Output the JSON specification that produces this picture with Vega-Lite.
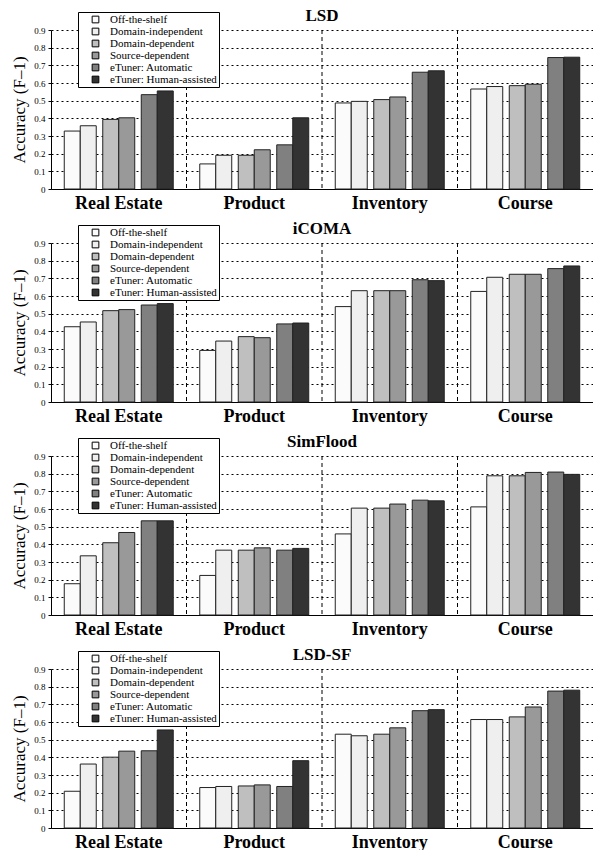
{
  "$schema": "https://vega.github.io/schema/vega-lite/v6.json",
  "padding": {"left": 10, "top": 6, "right": 0, "bottom": 0},
  "spacing": 7,
  "data": {"values": [
    {"matcher":"LSD","category":"Real Estate","method":"Off-the-shelf","accuracy":0.328},
    {"matcher":"LSD","category":"Real Estate","method":"Domain-independent","accuracy":0.358},
    {"matcher":"LSD","category":"Real Estate","method":"Domain-dependent","accuracy":0.394},
    {"matcher":"LSD","category":"Real Estate","method":"Source-dependent","accuracy":0.403},
    {"matcher":"LSD","category":"Real Estate","method":"eTuner: Automatic","accuracy":0.534},
    {"matcher":"LSD","category":"Real Estate","method":"eTuner: Human-assisted","accuracy":0.555},
    {"matcher":"LSD","category":"Product","method":"Off-the-shelf","accuracy":0.142},
    {"matcher":"LSD","category":"Product","method":"Domain-independent","accuracy":0.191},
    {"matcher":"LSD","category":"Product","method":"Domain-dependent","accuracy":0.191},
    {"matcher":"LSD","category":"Product","method":"Source-dependent","accuracy":0.222},
    {"matcher":"LSD","category":"Product","method":"eTuner: Automatic","accuracy":0.25},
    {"matcher":"LSD","category":"Product","method":"eTuner: Human-assisted","accuracy":0.403},
    {"matcher":"LSD","category":"Inventory","method":"Off-the-shelf","accuracy":0.487},
    {"matcher":"LSD","category":"Inventory","method":"Domain-independent","accuracy":0.496},
    {"matcher":"LSD","category":"Inventory","method":"Domain-dependent","accuracy":0.506},
    {"matcher":"LSD","category":"Inventory","method":"Source-dependent","accuracy":0.521},
    {"matcher":"LSD","category":"Inventory","method":"eTuner: Automatic","accuracy":0.661},
    {"matcher":"LSD","category":"Inventory","method":"eTuner: Human-assisted","accuracy":0.669},
    {"matcher":"LSD","category":"Course","method":"Off-the-shelf","accuracy":0.566},
    {"matcher":"LSD","category":"Course","method":"Domain-independent","accuracy":0.58},
    {"matcher":"LSD","category":"Course","method":"Domain-dependent","accuracy":0.585},
    {"matcher":"LSD","category":"Course","method":"Source-dependent","accuracy":0.593},
    {"matcher":"LSD","category":"Course","method":"eTuner: Automatic","accuracy":0.744},
    {"matcher":"LSD","category":"Course","method":"eTuner: Human-assisted","accuracy":0.746},
    {"matcher":"iCOMA","category":"Real Estate","method":"Off-the-shelf","accuracy":0.426},
    {"matcher":"iCOMA","category":"Real Estate","method":"Domain-independent","accuracy":0.453},
    {"matcher":"iCOMA","category":"Real Estate","method":"Domain-dependent","accuracy":0.517},
    {"matcher":"iCOMA","category":"Real Estate","method":"Source-dependent","accuracy":0.523},
    {"matcher":"iCOMA","category":"Real Estate","method":"eTuner: Automatic","accuracy":0.549},
    {"matcher":"iCOMA","category":"Real Estate","method":"eTuner: Human-assisted","accuracy":0.557},
    {"matcher":"iCOMA","category":"Product","method":"Off-the-shelf","accuracy":0.292},
    {"matcher":"iCOMA","category":"Product","method":"Domain-independent","accuracy":0.345},
    {"matcher":"iCOMA","category":"Product","method":"Domain-dependent","accuracy":0.37},
    {"matcher":"iCOMA","category":"Product","method":"Source-dependent","accuracy":0.364},
    {"matcher":"iCOMA","category":"Product","method":"eTuner: Automatic","accuracy":0.442},
    {"matcher":"iCOMA","category":"Product","method":"eTuner: Human-assisted","accuracy":0.447},
    {"matcher":"iCOMA","category":"Inventory","method":"Off-the-shelf","accuracy":0.54},
    {"matcher":"iCOMA","category":"Inventory","method":"Domain-independent","accuracy":0.63},
    {"matcher":"iCOMA","category":"Inventory","method":"Domain-dependent","accuracy":0.63},
    {"matcher":"iCOMA","category":"Inventory","method":"Source-dependent","accuracy":0.63},
    {"matcher":"iCOMA","category":"Inventory","method":"eTuner: Automatic","accuracy":0.692},
    {"matcher":"iCOMA","category":"Inventory","method":"eTuner: Human-assisted","accuracy":0.687},
    {"matcher":"iCOMA","category":"Course","method":"Off-the-shelf","accuracy":0.626},
    {"matcher":"iCOMA","category":"Course","method":"Domain-independent","accuracy":0.706},
    {"matcher":"iCOMA","category":"Course","method":"Domain-dependent","accuracy":0.723},
    {"matcher":"iCOMA","category":"Course","method":"Source-dependent","accuracy":0.723},
    {"matcher":"iCOMA","category":"Course","method":"eTuner: Automatic","accuracy":0.755},
    {"matcher":"iCOMA","category":"Course","method":"eTuner: Human-assisted","accuracy":0.77},
    {"matcher":"SimFlood","category":"Real Estate","method":"Off-the-shelf","accuracy":0.177},
    {"matcher":"SimFlood","category":"Real Estate","method":"Domain-independent","accuracy":0.335},
    {"matcher":"SimFlood","category":"Real Estate","method":"Domain-dependent","accuracy":0.409},
    {"matcher":"SimFlood","category":"Real Estate","method":"Source-dependent","accuracy":0.467},
    {"matcher":"SimFlood","category":"Real Estate","method":"eTuner: Automatic","accuracy":0.533},
    {"matcher":"SimFlood","category":"Real Estate","method":"eTuner: Human-assisted","accuracy":0.533},
    {"matcher":"SimFlood","category":"Product","method":"Off-the-shelf","accuracy":0.224},
    {"matcher":"SimFlood","category":"Product","method":"Domain-independent","accuracy":0.367},
    {"matcher":"SimFlood","category":"Product","method":"Domain-dependent","accuracy":0.367},
    {"matcher":"SimFlood","category":"Product","method":"Source-dependent","accuracy":0.38},
    {"matcher":"SimFlood","category":"Product","method":"eTuner: Automatic","accuracy":0.367},
    {"matcher":"SimFlood","category":"Product","method":"eTuner: Human-assisted","accuracy":0.377},
    {"matcher":"SimFlood","category":"Inventory","method":"Off-the-shelf","accuracy":0.459},
    {"matcher":"SimFlood","category":"Inventory","method":"Domain-independent","accuracy":0.605},
    {"matcher":"SimFlood","category":"Inventory","method":"Domain-dependent","accuracy":0.605},
    {"matcher":"SimFlood","category":"Inventory","method":"Source-dependent","accuracy":0.628},
    {"matcher":"SimFlood","category":"Inventory","method":"eTuner: Automatic","accuracy":0.65},
    {"matcher":"SimFlood","category":"Inventory","method":"eTuner: Human-assisted","accuracy":0.646},
    {"matcher":"SimFlood","category":"Course","method":"Off-the-shelf","accuracy":0.612},
    {"matcher":"SimFlood","category":"Course","method":"Domain-independent","accuracy":0.788},
    {"matcher":"SimFlood","category":"Course","method":"Domain-dependent","accuracy":0.788},
    {"matcher":"SimFlood","category":"Course","method":"Source-dependent","accuracy":0.807},
    {"matcher":"SimFlood","category":"Course","method":"eTuner: Automatic","accuracy":0.809},
    {"matcher":"SimFlood","category":"Course","method":"eTuner: Human-assisted","accuracy":0.796},
    {"matcher":"LSD-SF","category":"Real Estate","method":"Off-the-shelf","accuracy":0.208},
    {"matcher":"LSD-SF","category":"Real Estate","method":"Domain-independent","accuracy":0.362},
    {"matcher":"LSD-SF","category":"Real Estate","method":"Domain-dependent","accuracy":0.401},
    {"matcher":"LSD-SF","category":"Real Estate","method":"Source-dependent","accuracy":0.435},
    {"matcher":"LSD-SF","category":"Real Estate","method":"eTuner: Automatic","accuracy":0.437},
    {"matcher":"LSD-SF","category":"Real Estate","method":"eTuner: Human-assisted","accuracy":0.555},
    {"matcher":"LSD-SF","category":"Product","method":"Off-the-shelf","accuracy":0.229},
    {"matcher":"LSD-SF","category":"Product","method":"Domain-independent","accuracy":0.235},
    {"matcher":"LSD-SF","category":"Product","method":"Domain-dependent","accuracy":0.238},
    {"matcher":"LSD-SF","category":"Product","method":"Source-dependent","accuracy":0.244},
    {"matcher":"LSD-SF","category":"Product","method":"eTuner: Automatic","accuracy":0.235},
    {"matcher":"LSD-SF","category":"Product","method":"eTuner: Human-assisted","accuracy":0.381},
    {"matcher":"LSD-SF","category":"Inventory","method":"Off-the-shelf","accuracy":0.531},
    {"matcher":"LSD-SF","category":"Inventory","method":"Domain-independent","accuracy":0.522},
    {"matcher":"LSD-SF","category":"Inventory","method":"Domain-dependent","accuracy":0.531},
    {"matcher":"LSD-SF","category":"Inventory","method":"Source-dependent","accuracy":0.567},
    {"matcher":"LSD-SF","category":"Inventory","method":"eTuner: Automatic","accuracy":0.664},
    {"matcher":"LSD-SF","category":"Inventory","method":"eTuner: Human-assisted","accuracy":0.67},
    {"matcher":"LSD-SF","category":"Course","method":"Off-the-shelf","accuracy":0.614},
    {"matcher":"LSD-SF","category":"Course","method":"Domain-independent","accuracy":0.614},
    {"matcher":"LSD-SF","category":"Course","method":"Domain-dependent","accuracy":0.629},
    {"matcher":"LSD-SF","category":"Course","method":"Source-dependent","accuracy":0.685},
    {"matcher":"LSD-SF","category":"Course","method":"eTuner: Automatic","accuracy":0.775},
    {"matcher":"LSD-SF","category":"Course","method":"eTuner: Human-assisted","accuracy":0.78}
  ]},
  "datasets": {"sep": [{"category":"Product"},{"category":"Inventory"},{"category":"Course"}]},
  "resolve": {"legend": {"color": "independent"}},
  "vconcat": [
    {"title": "LSD", "width": 542, "height": 159, "resolve": {"scale": {"x": "independent"}, "axis": {"x": "independent"}}, "layer": [
      {"data": {"name": "sep"}, "mark": {"type": "rule", "strokeDash": [4, 3], "color": "#000", "strokeWidth": 1}, "encoding": {"x": {"field": "category", "type": "nominal", "bandPosition": 0, "scale": {"domain": ["Real Estate","Product","Inventory","Course"], "paddingInner": 0, "paddingOuter": 0}, "axis": null}}},
      {"transform": [{"filter": {"and": [{"field": "matcher", "equal": "LSD"}, {"field": "method", "equal": "Off-the-shelf"}]}}], "mark": {"type": "rule", "opacity": 0}, "encoding": {"x": {"field": "category", "type": "nominal", "scale": {"domain": ["Real Estate","Product","Inventory","Course"], "paddingInner": 0, "paddingOuter": 0}, "axis": {"title": null, "labelAngle": 0}}}},
      {"transform": [{"filter": {"and": [{"field": "matcher", "equal": "LSD"}, {"field": "method", "equal": "Off-the-shelf"}]}}], "mark": {"type": "bar", "stroke": "#222", "strokeWidth": 1}, "encoding": {"x": {"field": "category", "type": "nominal", "scale": {"domain": ["Real Estate","Product","Inventory","Course"], "paddingInner": 0.882, "paddingOuter": 0.441, "align": 0.1109}, "axis": null}, "y": {"field": "accuracy", "type": "quantitative", "scale": {"domain": [0, 0.9], "nice": false}, "axis": {"title": "Accuracy (F–1)", "values": [0,0.1,0.2,0.3,0.4,0.5,0.6,0.7,0.8,0.9], "format": "~g"}}, "color": {"field": "method", "type": "nominal", "scale": {"domain": ["Off-the-shelf","Domain-independent","Domain-dependent","Source-dependent","eTuner: Automatic","eTuner: Human-assisted"], "range": ["#fbfbfb","#efefef","#bfbfbf","#999999","#808080","#333333"]}, "legend": {"title": null}}}},
      {"transform": [{"filter": {"and": [{"field": "matcher", "equal": "LSD"}, {"field": "method", "equal": "Domain-independent"}]}}], "mark": {"type": "bar", "stroke": "#222", "strokeWidth": 1}, "encoding": {"x": {"field": "category", "type": "nominal", "scale": {"domain": ["Real Estate","Product","Inventory","Course"], "paddingInner": 0.882, "paddingOuter": 0.441, "align": 0.2448}, "axis": null}, "y": {"field": "accuracy", "type": "quantitative", "scale": {"domain": [0, 0.9], "nice": false}, "axis": {"title": "Accuracy (F–1)", "values": [0,0.1,0.2,0.3,0.4,0.5,0.6,0.7,0.8,0.9], "format": "~g"}}, "color": {"field": "method", "type": "nominal", "scale": {"domain": ["Off-the-shelf","Domain-independent","Domain-dependent","Source-dependent","eTuner: Automatic","eTuner: Human-assisted"], "range": ["#fbfbfb","#efefef","#bfbfbf","#999999","#808080","#333333"]}, "legend": {"title": null}}}},
      {"transform": [{"filter": {"and": [{"field": "matcher", "equal": "LSD"}, {"field": "method", "equal": "Domain-dependent"}]}}], "mark": {"type": "bar", "stroke": "#222", "strokeWidth": 1}, "encoding": {"x": {"field": "category", "type": "nominal", "scale": {"domain": ["Real Estate","Product","Inventory","Course"], "paddingInner": 0.882, "paddingOuter": 0.441, "align": 0.4331}, "axis": null}, "y": {"field": "accuracy", "type": "quantitative", "scale": {"domain": [0, 0.9], "nice": false}, "axis": {"title": "Accuracy (F–1)", "values": [0,0.1,0.2,0.3,0.4,0.5,0.6,0.7,0.8,0.9], "format": "~g"}}, "color": {"field": "method", "type": "nominal", "scale": {"domain": ["Off-the-shelf","Domain-independent","Domain-dependent","Source-dependent","eTuner: Automatic","eTuner: Human-assisted"], "range": ["#fbfbfb","#efefef","#bfbfbf","#999999","#808080","#333333"]}, "legend": {"title": null}}}},
      {"transform": [{"filter": {"and": [{"field": "matcher", "equal": "LSD"}, {"field": "method", "equal": "Source-dependent"}]}}], "mark": {"type": "bar", "stroke": "#222", "strokeWidth": 1}, "encoding": {"x": {"field": "category", "type": "nominal", "scale": {"domain": ["Real Estate","Product","Inventory","Course"], "paddingInner": 0.882, "paddingOuter": 0.441, "align": 0.5669}, "axis": null}, "y": {"field": "accuracy", "type": "quantitative", "scale": {"domain": [0, 0.9], "nice": false}, "axis": {"title": "Accuracy (F–1)", "values": [0,0.1,0.2,0.3,0.4,0.5,0.6,0.7,0.8,0.9], "format": "~g"}}, "color": {"field": "method", "type": "nominal", "scale": {"domain": ["Off-the-shelf","Domain-independent","Domain-dependent","Source-dependent","eTuner: Automatic","eTuner: Human-assisted"], "range": ["#fbfbfb","#efefef","#bfbfbf","#999999","#808080","#333333"]}, "legend": {"title": null}}}},
      {"transform": [{"filter": {"and": [{"field": "matcher", "equal": "LSD"}, {"field": "method", "equal": "eTuner: Automatic"}]}}], "mark": {"type": "bar", "stroke": "#222", "strokeWidth": 1}, "encoding": {"x": {"field": "category", "type": "nominal", "scale": {"domain": ["Real Estate","Product","Inventory","Course"], "paddingInner": 0.882, "paddingOuter": 0.441, "align": 0.7552}, "axis": null}, "y": {"field": "accuracy", "type": "quantitative", "scale": {"domain": [0, 0.9], "nice": false}, "axis": {"title": "Accuracy (F–1)", "values": [0,0.1,0.2,0.3,0.4,0.5,0.6,0.7,0.8,0.9], "format": "~g"}}, "color": {"field": "method", "type": "nominal", "scale": {"domain": ["Off-the-shelf","Domain-independent","Domain-dependent","Source-dependent","eTuner: Automatic","eTuner: Human-assisted"], "range": ["#fbfbfb","#efefef","#bfbfbf","#999999","#808080","#333333"]}, "legend": {"title": null}}}},
      {"transform": [{"filter": {"and": [{"field": "matcher", "equal": "LSD"}, {"field": "method", "equal": "eTuner: Human-assisted"}]}}], "mark": {"type": "bar", "stroke": "#222", "strokeWidth": 1}, "encoding": {"x": {"field": "category", "type": "nominal", "scale": {"domain": ["Real Estate","Product","Inventory","Course"], "paddingInner": 0.882, "paddingOuter": 0.441, "align": 0.8891}, "axis": null}, "y": {"field": "accuracy", "type": "quantitative", "scale": {"domain": [0, 0.9], "nice": false}, "axis": {"title": "Accuracy (F–1)", "values": [0,0.1,0.2,0.3,0.4,0.5,0.6,0.7,0.8,0.9], "format": "~g"}}, "color": {"field": "method", "type": "nominal", "scale": {"domain": ["Off-the-shelf","Domain-independent","Domain-dependent","Source-dependent","eTuner: Automatic","eTuner: Human-assisted"], "range": ["#fbfbfb","#efefef","#bfbfbf","#999999","#808080","#333333"]}, "legend": {"title": null}}}}
    ]},
    {"title": "iCOMA", "width": 542, "height": 159, "resolve": {"scale": {"x": "independent"}, "axis": {"x": "independent"}}, "layer": [
      {"data": {"name": "sep"}, "mark": {"type": "rule", "strokeDash": [4, 3], "color": "#000", "strokeWidth": 1}, "encoding": {"x": {"field": "category", "type": "nominal", "bandPosition": 0, "scale": {"domain": ["Real Estate","Product","Inventory","Course"], "paddingInner": 0, "paddingOuter": 0}, "axis": null}}},
      {"transform": [{"filter": {"and": [{"field": "matcher", "equal": "iCOMA"}, {"field": "method", "equal": "Off-the-shelf"}]}}], "mark": {"type": "rule", "opacity": 0}, "encoding": {"x": {"field": "category", "type": "nominal", "scale": {"domain": ["Real Estate","Product","Inventory","Course"], "paddingInner": 0, "paddingOuter": 0}, "axis": {"title": null, "labelAngle": 0}}}},
      {"transform": [{"filter": {"and": [{"field": "matcher", "equal": "iCOMA"}, {"field": "method", "equal": "Off-the-shelf"}]}}], "mark": {"type": "bar", "stroke": "#222", "strokeWidth": 1}, "encoding": {"x": {"field": "category", "type": "nominal", "scale": {"domain": ["Real Estate","Product","Inventory","Course"], "paddingInner": 0.882, "paddingOuter": 0.441, "align": 0.1109}, "axis": null}, "y": {"field": "accuracy", "type": "quantitative", "scale": {"domain": [0, 0.9], "nice": false}, "axis": {"title": "Accuracy (F–1)", "values": [0,0.1,0.2,0.3,0.4,0.5,0.6,0.7,0.8,0.9], "format": "~g"}}, "color": {"field": "method", "type": "nominal", "scale": {"domain": ["Off-the-shelf","Domain-independent","Domain-dependent","Source-dependent","eTuner: Automatic","eTuner: Human-assisted"], "range": ["#fbfbfb","#efefef","#bfbfbf","#999999","#808080","#333333"]}, "legend": {"title": null}}}},
      {"transform": [{"filter": {"and": [{"field": "matcher", "equal": "iCOMA"}, {"field": "method", "equal": "Domain-independent"}]}}], "mark": {"type": "bar", "stroke": "#222", "strokeWidth": 1}, "encoding": {"x": {"field": "category", "type": "nominal", "scale": {"domain": ["Real Estate","Product","Inventory","Course"], "paddingInner": 0.882, "paddingOuter": 0.441, "align": 0.2448}, "axis": null}, "y": {"field": "accuracy", "type": "quantitative", "scale": {"domain": [0, 0.9], "nice": false}, "axis": {"title": "Accuracy (F–1)", "values": [0,0.1,0.2,0.3,0.4,0.5,0.6,0.7,0.8,0.9], "format": "~g"}}, "color": {"field": "method", "type": "nominal", "scale": {"domain": ["Off-the-shelf","Domain-independent","Domain-dependent","Source-dependent","eTuner: Automatic","eTuner: Human-assisted"], "range": ["#fbfbfb","#efefef","#bfbfbf","#999999","#808080","#333333"]}, "legend": {"title": null}}}},
      {"transform": [{"filter": {"and": [{"field": "matcher", "equal": "iCOMA"}, {"field": "method", "equal": "Domain-dependent"}]}}], "mark": {"type": "bar", "stroke": "#222", "strokeWidth": 1}, "encoding": {"x": {"field": "category", "type": "nominal", "scale": {"domain": ["Real Estate","Product","Inventory","Course"], "paddingInner": 0.882, "paddingOuter": 0.441, "align": 0.4331}, "axis": null}, "y": {"field": "accuracy", "type": "quantitative", "scale": {"domain": [0, 0.9], "nice": false}, "axis": {"title": "Accuracy (F–1)", "values": [0,0.1,0.2,0.3,0.4,0.5,0.6,0.7,0.8,0.9], "format": "~g"}}, "color": {"field": "method", "type": "nominal", "scale": {"domain": ["Off-the-shelf","Domain-independent","Domain-dependent","Source-dependent","eTuner: Automatic","eTuner: Human-assisted"], "range": ["#fbfbfb","#efefef","#bfbfbf","#999999","#808080","#333333"]}, "legend": {"title": null}}}},
      {"transform": [{"filter": {"and": [{"field": "matcher", "equal": "iCOMA"}, {"field": "method", "equal": "Source-dependent"}]}}], "mark": {"type": "bar", "stroke": "#222", "strokeWidth": 1}, "encoding": {"x": {"field": "category", "type": "nominal", "scale": {"domain": ["Real Estate","Product","Inventory","Course"], "paddingInner": 0.882, "paddingOuter": 0.441, "align": 0.5669}, "axis": null}, "y": {"field": "accuracy", "type": "quantitative", "scale": {"domain": [0, 0.9], "nice": false}, "axis": {"title": "Accuracy (F–1)", "values": [0,0.1,0.2,0.3,0.4,0.5,0.6,0.7,0.8,0.9], "format": "~g"}}, "color": {"field": "method", "type": "nominal", "scale": {"domain": ["Off-the-shelf","Domain-independent","Domain-dependent","Source-dependent","eTuner: Automatic","eTuner: Human-assisted"], "range": ["#fbfbfb","#efefef","#bfbfbf","#999999","#808080","#333333"]}, "legend": {"title": null}}}},
      {"transform": [{"filter": {"and": [{"field": "matcher", "equal": "iCOMA"}, {"field": "method", "equal": "eTuner: Automatic"}]}}], "mark": {"type": "bar", "stroke": "#222", "strokeWidth": 1}, "encoding": {"x": {"field": "category", "type": "nominal", "scale": {"domain": ["Real Estate","Product","Inventory","Course"], "paddingInner": 0.882, "paddingOuter": 0.441, "align": 0.7552}, "axis": null}, "y": {"field": "accuracy", "type": "quantitative", "scale": {"domain": [0, 0.9], "nice": false}, "axis": {"title": "Accuracy (F–1)", "values": [0,0.1,0.2,0.3,0.4,0.5,0.6,0.7,0.8,0.9], "format": "~g"}}, "color": {"field": "method", "type": "nominal", "scale": {"domain": ["Off-the-shelf","Domain-independent","Domain-dependent","Source-dependent","eTuner: Automatic","eTuner: Human-assisted"], "range": ["#fbfbfb","#efefef","#bfbfbf","#999999","#808080","#333333"]}, "legend": {"title": null}}}},
      {"transform": [{"filter": {"and": [{"field": "matcher", "equal": "iCOMA"}, {"field": "method", "equal": "eTuner: Human-assisted"}]}}], "mark": {"type": "bar", "stroke": "#222", "strokeWidth": 1}, "encoding": {"x": {"field": "category", "type": "nominal", "scale": {"domain": ["Real Estate","Product","Inventory","Course"], "paddingInner": 0.882, "paddingOuter": 0.441, "align": 0.8891}, "axis": null}, "y": {"field": "accuracy", "type": "quantitative", "scale": {"domain": [0, 0.9], "nice": false}, "axis": {"title": "Accuracy (F–1)", "values": [0,0.1,0.2,0.3,0.4,0.5,0.6,0.7,0.8,0.9], "format": "~g"}}, "color": {"field": "method", "type": "nominal", "scale": {"domain": ["Off-the-shelf","Domain-independent","Domain-dependent","Source-dependent","eTuner: Automatic","eTuner: Human-assisted"], "range": ["#fbfbfb","#efefef","#bfbfbf","#999999","#808080","#333333"]}, "legend": {"title": null}}}}
    ]},
    {"title": "SimFlood", "width": 542, "height": 159, "resolve": {"scale": {"x": "independent"}, "axis": {"x": "independent"}}, "layer": [
      {"data": {"name": "sep"}, "mark": {"type": "rule", "strokeDash": [4, 3], "color": "#000", "strokeWidth": 1}, "encoding": {"x": {"field": "category", "type": "nominal", "bandPosition": 0, "scale": {"domain": ["Real Estate","Product","Inventory","Course"], "paddingInner": 0, "paddingOuter": 0}, "axis": null}}},
      {"transform": [{"filter": {"and": [{"field": "matcher", "equal": "SimFlood"}, {"field": "method", "equal": "Off-the-shelf"}]}}], "mark": {"type": "rule", "opacity": 0}, "encoding": {"x": {"field": "category", "type": "nominal", "scale": {"domain": ["Real Estate","Product","Inventory","Course"], "paddingInner": 0, "paddingOuter": 0}, "axis": {"title": null, "labelAngle": 0}}}},
      {"transform": [{"filter": {"and": [{"field": "matcher", "equal": "SimFlood"}, {"field": "method", "equal": "Off-the-shelf"}]}}], "mark": {"type": "bar", "stroke": "#222", "strokeWidth": 1}, "encoding": {"x": {"field": "category", "type": "nominal", "scale": {"domain": ["Real Estate","Product","Inventory","Course"], "paddingInner": 0.882, "paddingOuter": 0.441, "align": 0.1109}, "axis": null}, "y": {"field": "accuracy", "type": "quantitative", "scale": {"domain": [0, 0.9], "nice": false}, "axis": {"title": "Accuracy (F–1)", "values": [0,0.1,0.2,0.3,0.4,0.5,0.6,0.7,0.8,0.9], "format": "~g"}}, "color": {"field": "method", "type": "nominal", "scale": {"domain": ["Off-the-shelf","Domain-independent","Domain-dependent","Source-dependent","eTuner: Automatic","eTuner: Human-assisted"], "range": ["#fbfbfb","#efefef","#bfbfbf","#999999","#808080","#333333"]}, "legend": {"title": null}}}},
      {"transform": [{"filter": {"and": [{"field": "matcher", "equal": "SimFlood"}, {"field": "method", "equal": "Domain-independent"}]}}], "mark": {"type": "bar", "stroke": "#222", "strokeWidth": 1}, "encoding": {"x": {"field": "category", "type": "nominal", "scale": {"domain": ["Real Estate","Product","Inventory","Course"], "paddingInner": 0.882, "paddingOuter": 0.441, "align": 0.2448}, "axis": null}, "y": {"field": "accuracy", "type": "quantitative", "scale": {"domain": [0, 0.9], "nice": false}, "axis": {"title": "Accuracy (F–1)", "values": [0,0.1,0.2,0.3,0.4,0.5,0.6,0.7,0.8,0.9], "format": "~g"}}, "color": {"field": "method", "type": "nominal", "scale": {"domain": ["Off-the-shelf","Domain-independent","Domain-dependent","Source-dependent","eTuner: Automatic","eTuner: Human-assisted"], "range": ["#fbfbfb","#efefef","#bfbfbf","#999999","#808080","#333333"]}, "legend": {"title": null}}}},
      {"transform": [{"filter": {"and": [{"field": "matcher", "equal": "SimFlood"}, {"field": "method", "equal": "Domain-dependent"}]}}], "mark": {"type": "bar", "stroke": "#222", "strokeWidth": 1}, "encoding": {"x": {"field": "category", "type": "nominal", "scale": {"domain": ["Real Estate","Product","Inventory","Course"], "paddingInner": 0.882, "paddingOuter": 0.441, "align": 0.4331}, "axis": null}, "y": {"field": "accuracy", "type": "quantitative", "scale": {"domain": [0, 0.9], "nice": false}, "axis": {"title": "Accuracy (F–1)", "values": [0,0.1,0.2,0.3,0.4,0.5,0.6,0.7,0.8,0.9], "format": "~g"}}, "color": {"field": "method", "type": "nominal", "scale": {"domain": ["Off-the-shelf","Domain-independent","Domain-dependent","Source-dependent","eTuner: Automatic","eTuner: Human-assisted"], "range": ["#fbfbfb","#efefef","#bfbfbf","#999999","#808080","#333333"]}, "legend": {"title": null}}}},
      {"transform": [{"filter": {"and": [{"field": "matcher", "equal": "SimFlood"}, {"field": "method", "equal": "Source-dependent"}]}}], "mark": {"type": "bar", "stroke": "#222", "strokeWidth": 1}, "encoding": {"x": {"field": "category", "type": "nominal", "scale": {"domain": ["Real Estate","Product","Inventory","Course"], "paddingInner": 0.882, "paddingOuter": 0.441, "align": 0.5669}, "axis": null}, "y": {"field": "accuracy", "type": "quantitative", "scale": {"domain": [0, 0.9], "nice": false}, "axis": {"title": "Accuracy (F–1)", "values": [0,0.1,0.2,0.3,0.4,0.5,0.6,0.7,0.8,0.9], "format": "~g"}}, "color": {"field": "method", "type": "nominal", "scale": {"domain": ["Off-the-shelf","Domain-independent","Domain-dependent","Source-dependent","eTuner: Automatic","eTuner: Human-assisted"], "range": ["#fbfbfb","#efefef","#bfbfbf","#999999","#808080","#333333"]}, "legend": {"title": null}}}},
      {"transform": [{"filter": {"and": [{"field": "matcher", "equal": "SimFlood"}, {"field": "method", "equal": "eTuner: Automatic"}]}}], "mark": {"type": "bar", "stroke": "#222", "strokeWidth": 1}, "encoding": {"x": {"field": "category", "type": "nominal", "scale": {"domain": ["Real Estate","Product","Inventory","Course"], "paddingInner": 0.882, "paddingOuter": 0.441, "align": 0.7552}, "axis": null}, "y": {"field": "accuracy", "type": "quantitative", "scale": {"domain": [0, 0.9], "nice": false}, "axis": {"title": "Accuracy (F–1)", "values": [0,0.1,0.2,0.3,0.4,0.5,0.6,0.7,0.8,0.9], "format": "~g"}}, "color": {"field": "method", "type": "nominal", "scale": {"domain": ["Off-the-shelf","Domain-independent","Domain-dependent","Source-dependent","eTuner: Automatic","eTuner: Human-assisted"], "range": ["#fbfbfb","#efefef","#bfbfbf","#999999","#808080","#333333"]}, "legend": {"title": null}}}},
      {"transform": [{"filter": {"and": [{"field": "matcher", "equal": "SimFlood"}, {"field": "method", "equal": "eTuner: Human-assisted"}]}}], "mark": {"type": "bar", "stroke": "#222", "strokeWidth": 1}, "encoding": {"x": {"field": "category", "type": "nominal", "scale": {"domain": ["Real Estate","Product","Inventory","Course"], "paddingInner": 0.882, "paddingOuter": 0.441, "align": 0.8891}, "axis": null}, "y": {"field": "accuracy", "type": "quantitative", "scale": {"domain": [0, 0.9], "nice": false}, "axis": {"title": "Accuracy (F–1)", "values": [0,0.1,0.2,0.3,0.4,0.5,0.6,0.7,0.8,0.9], "format": "~g"}}, "color": {"field": "method", "type": "nominal", "scale": {"domain": ["Off-the-shelf","Domain-independent","Domain-dependent","Source-dependent","eTuner: Automatic","eTuner: Human-assisted"], "range": ["#fbfbfb","#efefef","#bfbfbf","#999999","#808080","#333333"]}, "legend": {"title": null}}}}
    ]},
    {"title": "LSD-SF", "width": 542, "height": 159, "resolve": {"scale": {"x": "independent"}, "axis": {"x": "independent"}}, "layer": [
      {"data": {"name": "sep"}, "mark": {"type": "rule", "strokeDash": [4, 3], "color": "#000", "strokeWidth": 1}, "encoding": {"x": {"field": "category", "type": "nominal", "bandPosition": 0, "scale": {"domain": ["Real Estate","Product","Inventory","Course"], "paddingInner": 0, "paddingOuter": 0}, "axis": null}}},
      {"transform": [{"filter": {"and": [{"field": "matcher", "equal": "LSD-SF"}, {"field": "method", "equal": "Off-the-shelf"}]}}], "mark": {"type": "rule", "opacity": 0}, "encoding": {"x": {"field": "category", "type": "nominal", "scale": {"domain": ["Real Estate","Product","Inventory","Course"], "paddingInner": 0, "paddingOuter": 0}, "axis": {"title": null, "labelAngle": 0}}}},
      {"transform": [{"filter": {"and": [{"field": "matcher", "equal": "LSD-SF"}, {"field": "method", "equal": "Off-the-shelf"}]}}], "mark": {"type": "bar", "stroke": "#222", "strokeWidth": 1}, "encoding": {"x": {"field": "category", "type": "nominal", "scale": {"domain": ["Real Estate","Product","Inventory","Course"], "paddingInner": 0.882, "paddingOuter": 0.441, "align": 0.1109}, "axis": null}, "y": {"field": "accuracy", "type": "quantitative", "scale": {"domain": [0, 0.9], "nice": false}, "axis": {"title": "Accuracy (F–1)", "values": [0,0.1,0.2,0.3,0.4,0.5,0.6,0.7,0.8,0.9], "format": "~g"}}, "color": {"field": "method", "type": "nominal", "scale": {"domain": ["Off-the-shelf","Domain-independent","Domain-dependent","Source-dependent","eTuner: Automatic","eTuner: Human-assisted"], "range": ["#fbfbfb","#efefef","#bfbfbf","#999999","#808080","#333333"]}, "legend": {"title": null}}}},
      {"transform": [{"filter": {"and": [{"field": "matcher", "equal": "LSD-SF"}, {"field": "method", "equal": "Domain-independent"}]}}], "mark": {"type": "bar", "stroke": "#222", "strokeWidth": 1}, "encoding": {"x": {"field": "category", "type": "nominal", "scale": {"domain": ["Real Estate","Product","Inventory","Course"], "paddingInner": 0.882, "paddingOuter": 0.441, "align": 0.2448}, "axis": null}, "y": {"field": "accuracy", "type": "quantitative", "scale": {"domain": [0, 0.9], "nice": false}, "axis": {"title": "Accuracy (F–1)", "values": [0,0.1,0.2,0.3,0.4,0.5,0.6,0.7,0.8,0.9], "format": "~g"}}, "color": {"field": "method", "type": "nominal", "scale": {"domain": ["Off-the-shelf","Domain-independent","Domain-dependent","Source-dependent","eTuner: Automatic","eTuner: Human-assisted"], "range": ["#fbfbfb","#efefef","#bfbfbf","#999999","#808080","#333333"]}, "legend": {"title": null}}}},
      {"transform": [{"filter": {"and": [{"field": "matcher", "equal": "LSD-SF"}, {"field": "method", "equal": "Domain-dependent"}]}}], "mark": {"type": "bar", "stroke": "#222", "strokeWidth": 1}, "encoding": {"x": {"field": "category", "type": "nominal", "scale": {"domain": ["Real Estate","Product","Inventory","Course"], "paddingInner": 0.882, "paddingOuter": 0.441, "align": 0.4331}, "axis": null}, "y": {"field": "accuracy", "type": "quantitative", "scale": {"domain": [0, 0.9], "nice": false}, "axis": {"title": "Accuracy (F–1)", "values": [0,0.1,0.2,0.3,0.4,0.5,0.6,0.7,0.8,0.9], "format": "~g"}}, "color": {"field": "method", "type": "nominal", "scale": {"domain": ["Off-the-shelf","Domain-independent","Domain-dependent","Source-dependent","eTuner: Automatic","eTuner: Human-assisted"], "range": ["#fbfbfb","#efefef","#bfbfbf","#999999","#808080","#333333"]}, "legend": {"title": null}}}},
      {"transform": [{"filter": {"and": [{"field": "matcher", "equal": "LSD-SF"}, {"field": "method", "equal": "Source-dependent"}]}}], "mark": {"type": "bar", "stroke": "#222", "strokeWidth": 1}, "encoding": {"x": {"field": "category", "type": "nominal", "scale": {"domain": ["Real Estate","Product","Inventory","Course"], "paddingInner": 0.882, "paddingOuter": 0.441, "align": 0.5669}, "axis": null}, "y": {"field": "accuracy", "type": "quantitative", "scale": {"domain": [0, 0.9], "nice": false}, "axis": {"title": "Accuracy (F–1)", "values": [0,0.1,0.2,0.3,0.4,0.5,0.6,0.7,0.8,0.9], "format": "~g"}}, "color": {"field": "method", "type": "nominal", "scale": {"domain": ["Off-the-shelf","Domain-independent","Domain-dependent","Source-dependent","eTuner: Automatic","eTuner: Human-assisted"], "range": ["#fbfbfb","#efefef","#bfbfbf","#999999","#808080","#333333"]}, "legend": {"title": null}}}},
      {"transform": [{"filter": {"and": [{"field": "matcher", "equal": "LSD-SF"}, {"field": "method", "equal": "eTuner: Automatic"}]}}], "mark": {"type": "bar", "stroke": "#222", "strokeWidth": 1}, "encoding": {"x": {"field": "category", "type": "nominal", "scale": {"domain": ["Real Estate","Product","Inventory","Course"], "paddingInner": 0.882, "paddingOuter": 0.441, "align": 0.7552}, "axis": null}, "y": {"field": "accuracy", "type": "quantitative", "scale": {"domain": [0, 0.9], "nice": false}, "axis": {"title": "Accuracy (F–1)", "values": [0,0.1,0.2,0.3,0.4,0.5,0.6,0.7,0.8,0.9], "format": "~g"}}, "color": {"field": "method", "type": "nominal", "scale": {"domain": ["Off-the-shelf","Domain-independent","Domain-dependent","Source-dependent","eTuner: Automatic","eTuner: Human-assisted"], "range": ["#fbfbfb","#efefef","#bfbfbf","#999999","#808080","#333333"]}, "legend": {"title": null}}}},
      {"transform": [{"filter": {"and": [{"field": "matcher", "equal": "LSD-SF"}, {"field": "method", "equal": "eTuner: Human-assisted"}]}}], "mark": {"type": "bar", "stroke": "#222", "strokeWidth": 1}, "encoding": {"x": {"field": "category", "type": "nominal", "scale": {"domain": ["Real Estate","Product","Inventory","Course"], "paddingInner": 0.882, "paddingOuter": 0.441, "align": 0.8891}, "axis": null}, "y": {"field": "accuracy", "type": "quantitative", "scale": {"domain": [0, 0.9], "nice": false}, "axis": {"title": "Accuracy (F–1)", "values": [0,0.1,0.2,0.3,0.4,0.5,0.6,0.7,0.8,0.9], "format": "~g"}}, "color": {"field": "method", "type": "nominal", "scale": {"domain": ["Off-the-shelf","Domain-independent","Domain-dependent","Source-dependent","eTuner: Automatic","eTuner: Human-assisted"], "range": ["#fbfbfb","#efefef","#bfbfbf","#999999","#808080","#333333"]}, "legend": {"title": null}}}}
    ]}
  ],
  "config": {
    "font": "Liberation Serif",
    "view": {"stroke": null},
    "axis": {"domainColor": "#000", "tickColor": "#000", "labelColor": "#000", "titleColor": "#000", "labelFont": "Liberation Serif", "titleFont": "Liberation Serif"},
    "axisX": {"labelFontSize": 18, "labelFontWeight": "bold", "ticks": false, "labelPadding": 5, "domainWidth": 1.2, "grid": false},
    "axisY": {"grid": true, "gridDash": [2, 3], "gridColor": "#000", "gridOpacity": 1, "labelFontSize": 9, "tickSize": 3, "labelPadding": 3, "titleFontSize": 17, "titleFontWeight": "normal", "titlePadding": 5, "domainWidth": 1},
    "title": {"fontSize": 17, "font": "Liberation Serif", "fontWeight": "bold", "anchor": "middle", "offset": -13, "color": "#000"},
    "legend": {"orient": "none", "legendX": 27, "legendY": -18, "fillColor": "#fff", "strokeColor": "#000", "padding": 2, "symbolType": "square", "symbolSize": 45, "symbolStrokeColor": "#000", "symbolStrokeWidth": 1, "symbolOffset": 10, "labelFont": "Liberation Serif", "labelFontSize": 11, "labelColor": "#000", "rowPadding": 0, "labelOffset": 9}
  }
}
